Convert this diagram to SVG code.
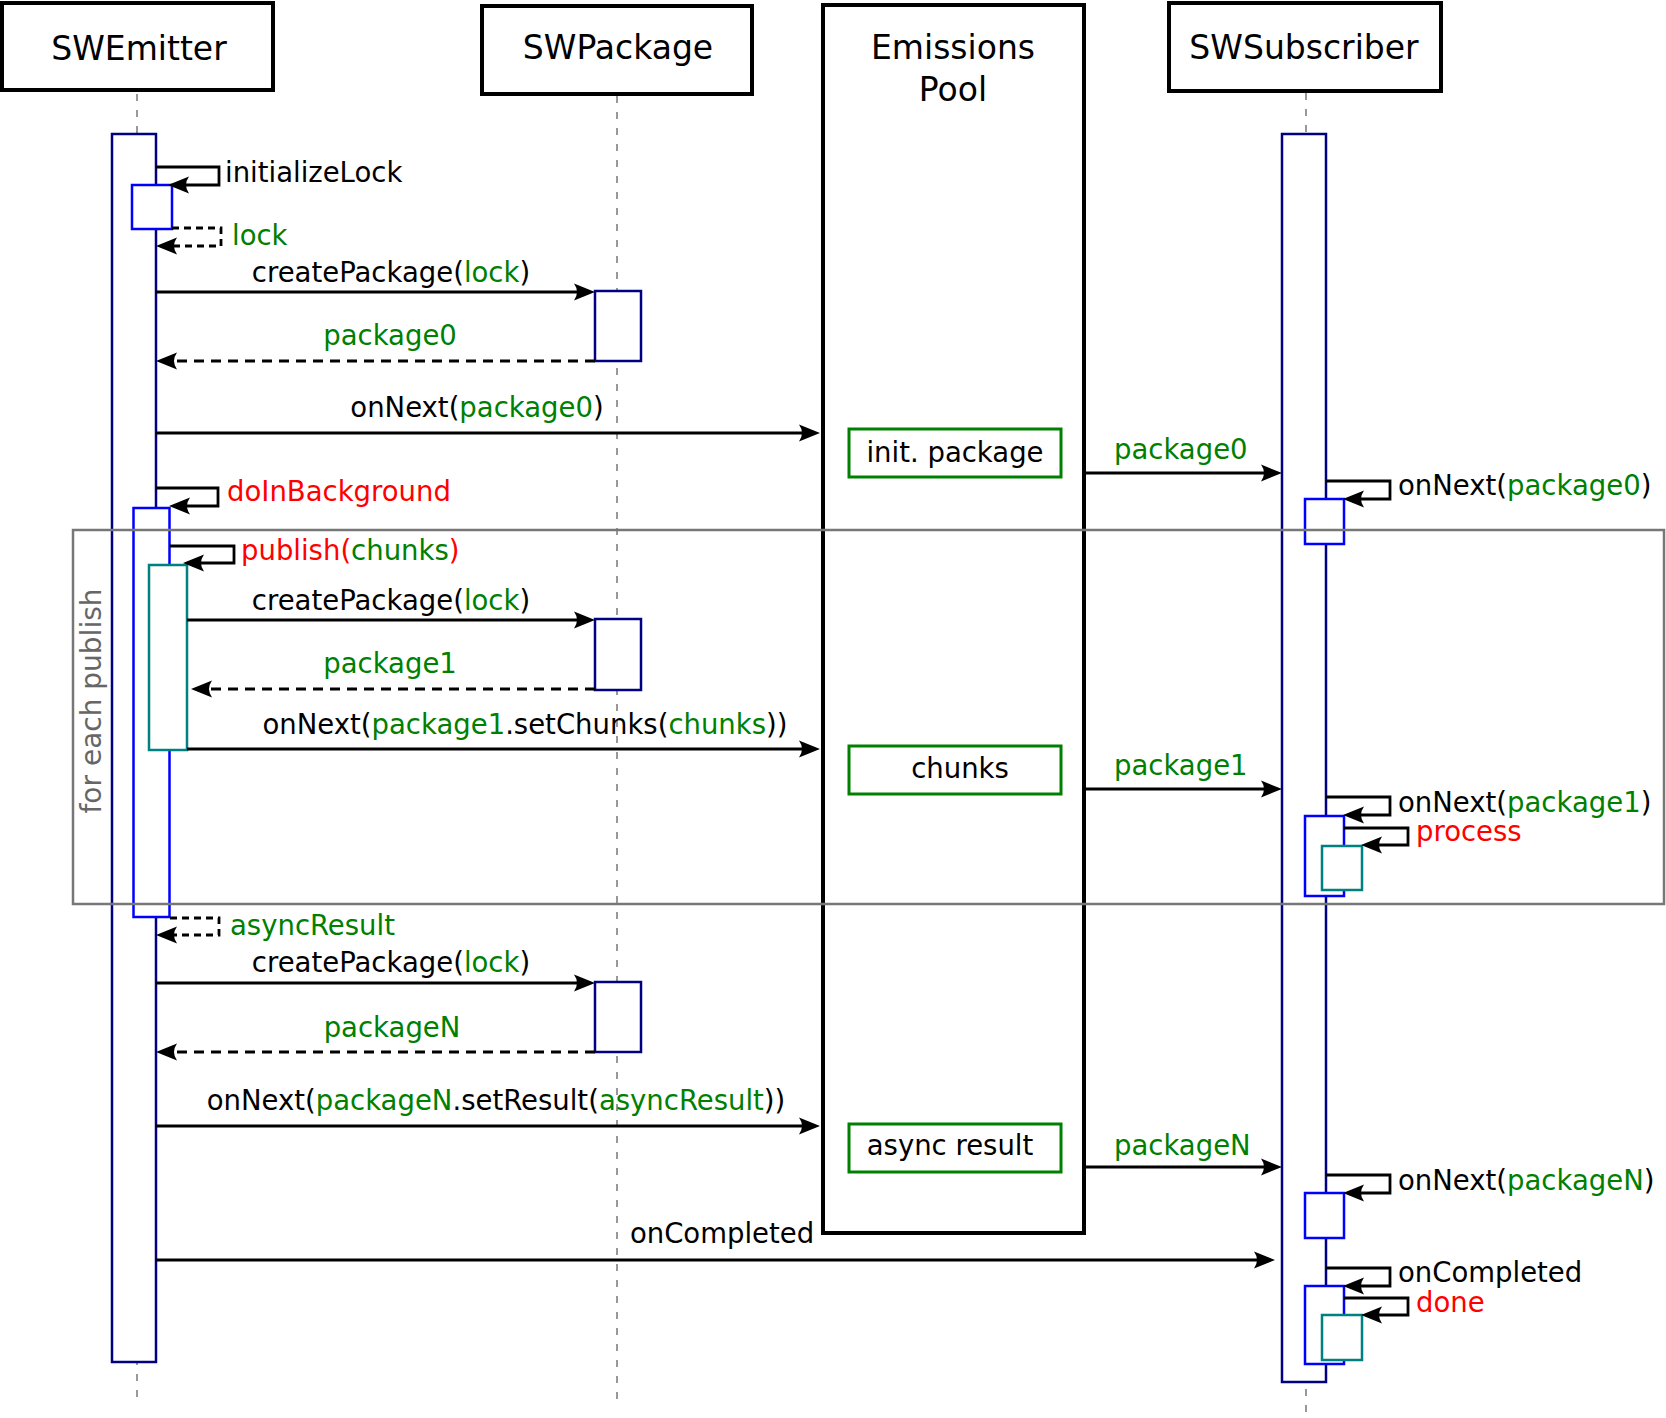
<svg xmlns="http://www.w3.org/2000/svg" width="1666" height="1418" viewBox="0 0 1666 1418">
<defs>
<style>
.hdr{fill:#fff;stroke:#000;stroke-width:4}
.ht{font-family:"DejaVu Sans",sans-serif;font-size:33px;fill:#000;text-anchor:middle}
.t{font-family:"DejaVu Sans",sans-serif;font-size:27.5px;fill:#000}
.m{text-anchor:middle}
.g{fill:#008000}
.r{fill:#ff0000}
.life{stroke:#999;stroke-width:2;stroke-dasharray:7,9;fill:none}
.bar{fill:#fff;stroke:#000080;stroke-width:2.5}
.act{fill:#fff;stroke:#0000ff;stroke-width:2.5}
.tl{fill:#fff;stroke:#008080;stroke-width:2.5}
.gb{fill:#fff;stroke:#008000;stroke-width:3}
.msg{fill:none;stroke:#000;stroke-width:2.8;marker-end:url(#ah)}
.ret{stroke-dasharray:10,7}
.sret{stroke-dasharray:7,5}
.frame{fill:none;stroke:#777;stroke-width:2.5}
</style>
<marker id="ah" viewBox="-23 -10 24 20" markerWidth="24" markerHeight="20" refX="-6" refY="0" markerUnits="userSpaceOnUse" orient="auto">
<path d="M0,0 L-21,-8.5 Q-15,0 -21,8.5 Z" fill="#000"/>
</marker>
</defs>

<g id="lifelines">
<path class="life" d="M137,94 V1405"/>
<path class="life" d="M617,96 V1405"/>
<path class="life" d="M1306,93 V1418"/>
</g>

<g id="SWEmitter">
<rect class="hdr" x="2" y="3" width="271" height="87"/>
<text class="ht" x="139" y="60">SWEmitter</text>
</g>
<g id="SWPackage">
<rect class="hdr" x="482" y="6" width="270" height="88"/>
<text class="ht" x="618" y="59">SWPackage</text>
</g>
<g id="EmissionsPool">
<rect class="hdr" x="823" y="5" width="261" height="1228"/>
<text class="ht" x="953" y="59">Emissions</text>
<text class="ht" x="953" y="101">Pool</text>
</g>
<g id="SWSubscriber">
<rect class="hdr" x="1169" y="3" width="272" height="88"/>
<text class="ht" x="1304" y="59">SWSubscriber</text>
</g>

<g id="emitter-activations">
<rect class="bar" x="112" y="134" width="44" height="1228"/>
<rect class="act" x="132" y="185" width="40" height="44"/>
<rect class="act" x="133.5" y="508" width="36" height="409"/>
<rect class="tl" x="149" y="565" width="38" height="185"/>
</g>

<g id="package-activations">
<rect class="bar" x="595" y="291" width="46" height="70"/>
<rect class="bar" x="595" y="619" width="46" height="71"/>
<rect class="bar" x="595" y="982" width="46" height="70"/>
</g>

<g id="subscriber-activations">
<rect class="bar" x="1282" y="134" width="44" height="1248"/>
<rect class="act" x="1305" y="499" width="39" height="45"/>
<rect class="act" x="1305" y="816" width="39" height="80"/>
<rect class="tl" x="1322" y="846" width="40" height="44"/>
<rect class="act" x="1305" y="1193" width="39" height="45"/>
<rect class="act" x="1305" y="1286" width="39" height="78"/>
<rect class="tl" x="1322" y="1315" width="40" height="45"/>
</g>

<g id="pool-items">
<g id="init-package"><rect class="gb" x="849" y="429" width="212" height="48"/><text class="t m" x="955" y="462">init. package</text></g>
<g id="chunks"><rect class="gb" x="849" y="746" width="212" height="48"/><text class="t m" x="960" y="778">chunks</text></g>
<g id="async-result"><rect class="gb" x="849" y="1124" width="212" height="48"/><text class="t m" x="950" y="1155">async result</text></g>
</g>

<g id="loop-frame">
<rect class="frame" x="73" y="530" width="1591" height="374"/>
<text class="t" x="0" y="0" transform="translate(101,701) rotate(-90)" text-anchor="middle" style="fill:#666;font-size:28px">for each publish</text>
</g>

<g id="connectors">
<path class="msg" d="M156,167 H219 V185 H174"/>
<path class="msg sret" d="M172,228 H221 V246 H162"/>
<path class="msg" d="M156,292 H589"/>
<path class="msg ret" d="M595,361 H162"/>
<path class="msg" d="M156,433 H814"/>
<path class="msg" d="M156,488 H218 V506 H175"/>
<path class="msg" d="M170,546 H234 V563 H189"/>
<path class="msg" d="M187,620 H589"/>
<path class="msg ret" d="M595,689 H197"/>
<path class="msg" d="M187,749 H814"/>
<path class="msg sret" d="M170,918 H219 V935 H162"/>
<path class="msg" d="M156,983 H589"/>
<path class="msg ret" d="M595,1052 H162"/>
<path class="msg" d="M156,1126 H814"/>
<path class="msg" d="M156,1260 H1269"/>
<path class="msg" d="M1084,473 H1276"/>
<path class="msg" d="M1084,789 H1276"/>
<path class="msg" d="M1084,1167 H1276"/>
<path class="msg" d="M1326,481 H1390 V499 H1349"/>
<path class="msg" d="M1326,797 H1390 V815 H1349"/>
<path class="msg" d="M1344,828 H1408 V845 H1367"/>
<path class="msg" d="M1326,1175 H1390 V1193 H1349"/>
<path class="msg" d="M1326,1268 H1390 V1286 H1349"/>
<path class="msg" d="M1344,1298 H1408 V1315 H1367"/>
</g>

<g id="labels">
<text class="t" x="225" y="182">initializeLock</text>
<text class="t g" x="232" y="245">lock</text>
<text class="t m" x="391" y="282">createPackage(<tspan class="g">lock</tspan>)</text>
<text class="t m g" x="390" y="345">package0</text>
<text class="t m" x="477" y="417">onNext(<tspan class="g">package0</tspan>)</text>
<text class="t r" x="227" y="501">doInBackground</text>
<text class="t r" x="241" y="560">publish(<tspan class="g">chunks</tspan>)</text>
<text class="t m" x="391" y="610">createPackage(<tspan class="g">lock</tspan>)</text>
<text class="t m g" x="390" y="673">package1</text>
<text class="t m" x="525" y="734">onNext(<tspan class="g">package1</tspan>.setChunks(<tspan class="g">chunks</tspan>))</text>
<text class="t g" x="230" y="935">asyncResult</text>
<text class="t m" x="391" y="972">createPackage(<tspan class="g">lock</tspan>)</text>
<text class="t m g" x="392" y="1037">packageN</text>
<text class="t m" x="496" y="1110">onNext(<tspan class="g">packageN</tspan>.setResult(<tspan class="g">asyncResult</tspan>))</text>
<text class="t m" x="722" y="1243">onCompleted</text>
<text class="t g" x="1114" y="459">package0</text>
<text class="t g" x="1114" y="775">package1</text>
<text class="t g" x="1114" y="1155">packageN</text>
<text class="t" x="1398" y="495">onNext(<tspan class="g">package0</tspan>)</text>
<text class="t" x="1398" y="812">onNext(<tspan class="g">package1</tspan>)</text>
<text class="t r" x="1416" y="841">process</text>
<text class="t" x="1398" y="1190">onNext(<tspan class="g">packageN</tspan>)</text>
<text class="t" x="1398" y="1282">onCompleted</text>
<text class="t r" x="1416" y="1312">done</text>
</g>
</svg>
